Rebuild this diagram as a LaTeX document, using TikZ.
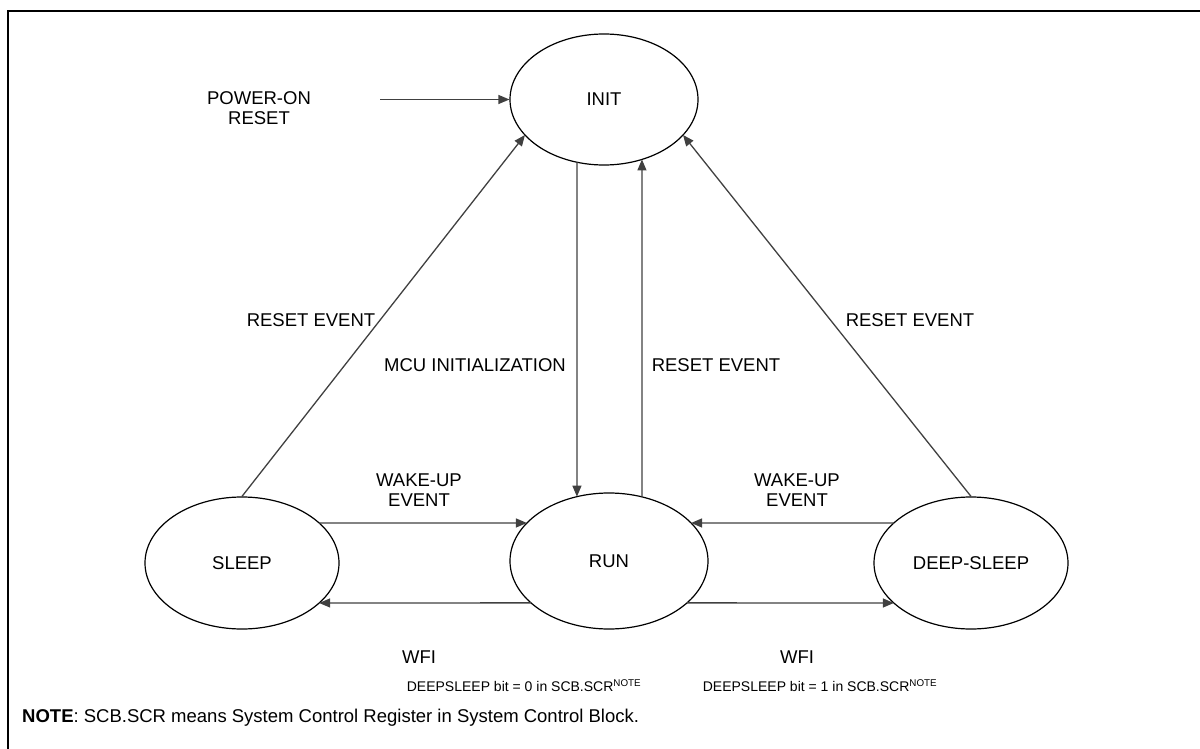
\documentclass[tikz,border=0pt]{standalone}
\usepackage{fontspec}
\setmainfont{Liberation Sans}
\usetikzlibrary{shapes.geometric,arrows.meta,calc}
\definecolor{linegray}{HTML}{404040}
\tikzset{
  state/.style={ellipse,draw=black,line width=1.2pt,inner sep=0pt,
    minimum width=194pt,minimum height=132pt,font=\fontsize{18.5}{20.5}\selectfont},
  arr/.style={draw=linegray,line width=1.3pt,-{Triangle[length=11pt,width=9pt]}},
  lbl/.style={font=\fontsize{18.5}{20.5}\selectfont,align=center,inner sep=0pt},
  small/.style={font=\fontsize{14}{16}\selectfont,inner sep=0pt},
}
\begin{document}
\begin{tikzpicture}[x=1pt,y=-1pt]
\useasboundingbox (0,0) rectangle (1200,749);
\begin{scope}
\clip (0,0) rectangle (1200,749);
\draw[line width=2.2pt] (8,760) -- (8,11) -- (1210,11);
\end{scope}
% states
\node[state,minimum width=188pt,minimum height=131pt] (init) at (604,99.5) {INIT};
\node[state,minimum width=198pt,minimum height=136pt] (run) at (609,561) {RUN};
\node[state] (sleep) at (242,563) {SLEEP};
\node[state] (deep) at (971,563) {DEEP-SLEEP};
% power-on
\node[lbl] (por) at (259,108) {POWER-ON\\RESET};
\coordinate (porstart) at (380,99.5);
\draw[arr] (porstart) -- (init.west);
% reset events to INIT
\draw[arr] (sleep.north) -- ($(init.center)+(-212.8:94 and 65.5)$);
\draw[arr] (deep.north) -- ($(init.center)+(-327.2:94 and 65.5)$);
% init <-> run
\draw[arr] ($(init.center)+(-253.3:94 and 65.5)$) -- ($(run.center)+(-108.9:99 and 68)$);
\draw[arr] ($(run.center)+(-70.5:99 and 68)$) -- ($(init.center)+(-293.8:94 and 65.5)$);
% wake-up
\draw[arr] ($(sleep.center)+(-37.3:97 and 66)$) -- ($(run.center)+(-146:99 and 68)$);
\draw[arr] ($(deep.center)+(-142.7:97 and 66)$) -- ($(run.center)+(-34:99 and 68)$);
% WFI
\draw[arr] ($(run.center)+(-218:99 and 68)$) -- ($(sleep.center)+(37.3:97 and 66)$);
\draw[arr] ($(run.center)+(38:99 and 68)$) -- ($(deep.center)+(-217.3:97 and 66)$);
% labels
\node[lbl] (l1) at (311,320) {RESET EVENT};
\node[lbl] (l2) at (910,320) {RESET EVENT};
\node[lbl] (l3) at (475,365) {MCU INITIALIZATION};
\node[lbl] (l4) at (716,365) {RESET EVENT};
\node[lbl] (l5) at (419,490) {WAKE-UP\\EVENT};
\node[lbl] (l6) at (797,490) {WAKE-UP\\EVENT};
\node[lbl] (l7) at (419,657) {WFI};
\node[lbl] (l8) at (797,657) {WFI};
\node[small] (l9) at (524,686) {DEEPSLEEP bit = 0 in SCB.SCR\textsuperscript{NOTE}};
\node[small] (l10) at (820,686) {DEEPSLEEP bit = 1 in SCB.SCR\textsuperscript{NOTE}};
\node[lbl,anchor=west] (note) at (22,718) {\textbf{NOTE}: SCB.SCR means System Control Register in System Control Block.};
\end{tikzpicture}
\end{document}
